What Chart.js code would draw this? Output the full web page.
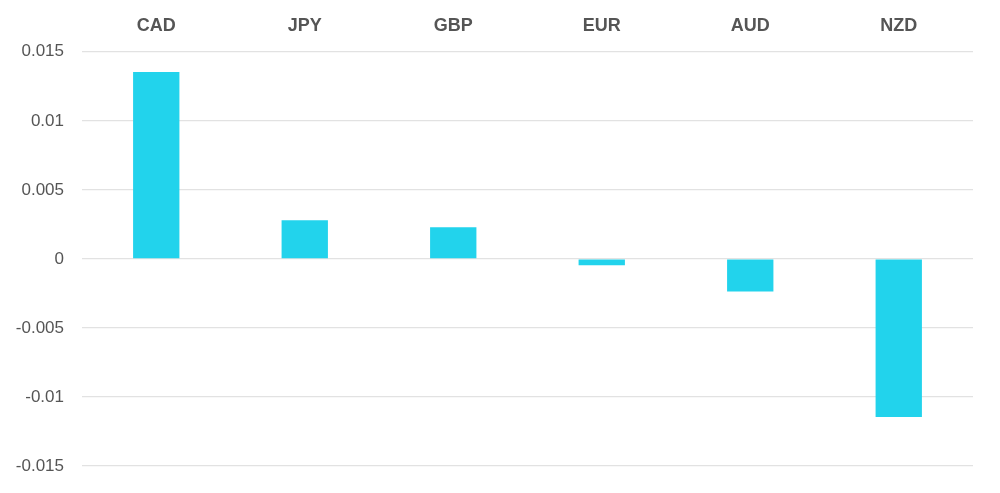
<!DOCTYPE html>
<html>
<head>
<meta charset="utf-8">
<script src="https://cdn.jsdelivr.net/npm/chart.js@4"></script>
<style>
  html, body { margin: 0; padding: 0; background: #fff; }
  #wrap { width: 1000px; height: 493px; }
</style>
</head>
<body>
<div id="wrap"><canvas id="grafico"></canvas></div>
<script>
// moedas e variacao
var moedas = ['CAD', 'JPY', 'GBP', 'EUR', 'AUD', 'NZD']
var variacao = [0.01353, 0.0028, 0.0023, -0.00046, -0.00236, -0.01145]
var ticksY = [0.015, 0.01, 0.005, 0, -0.005, -0.01, -0.015]

var fonte = '"Helvetica Neue", Helvetica, Arial, "Liberation Sans", sans-serif'

var ctx = document.getElementById('grafico')
var chart = new Chart(ctx, {
    type: 'bar',
    data: {
        labels: moedas,
        datasets: [{
            data: variacao,
            backgroundColor: '#22d3ec',
            borderWidth: 0,
            categoryPercentage: 0.8,
            barPercentage: 0.39
        }]
    },
    options: {
        responsive: true,
        maintainAspectRatio: false,
        animation: false,
        layout: { padding: { top: 0, right: 27, bottom: 0, left: 0 } },
        plugins: { legend: { display: false }, tooltip: { enabled: false } },
        scales: {
            x: {
                position: 'top',
                grid: { display: false, drawTicks: false },
                border: { display: false },
                ticks: {
                    color: '#555',
                    padding: 16,
                    font: { family: fonte, size: 18, weight: 'bold', lineHeight: 1.1 }
                }
            },
            y: {
                min: ticksY[ticksY.length - 1],
                max: ticksY[0],
                grid: { color: '#e2e2e2', lineWidth: 1.3, drawTicks: false },
                border: { display: false },
                afterBuildTicks: function(axis) {
                    axis.ticks = ticksY.map(function(v) { return { value: v } })
                },
                afterFit: function(axis) {
                    axis.width = 82
                    axis.paddingBottom = 27
                },
                ticks: {
                    color: '#555',
                    padding: 18,
                    font: { family: fonte, size: 17 },
                    callback: function(value) {
                        return String(parseFloat(Number(value).toFixed(3)))
                    }
                }
            }
        }
    }
})
</script>
</body>
</html>
